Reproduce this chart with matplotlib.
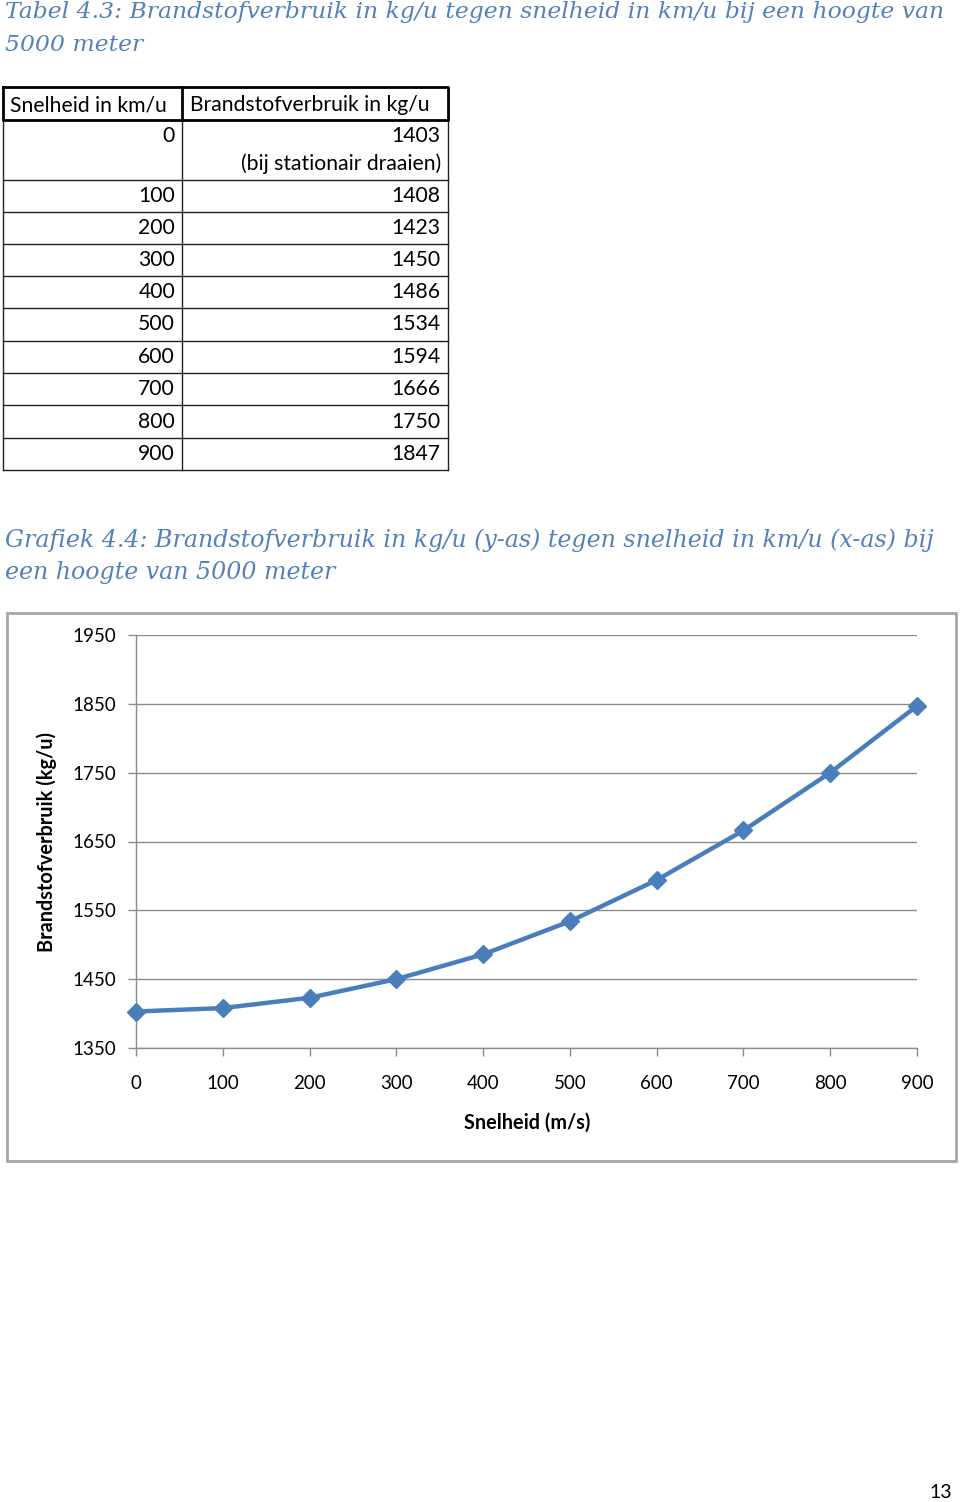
import matplotlib
matplotlib.use("Agg")
import matplotlib.pyplot as plt
from matplotlib.patches import Rectangle

# data
speeds = [0, 100, 200, 300, 400, 500, 600, 700, 800, 900]
fuel = [1403, 1408, 1423, 1450, 1486, 1534, 1594, 1666, 1750, 1847]
idle_note = "(bij stationair draaien)"
col_headers = ["Snelheid in km/u", "Brandstofverbruik in kg/u"]
y_ticks = [1350, 1450, 1550, 1650, 1750, 1850, 1950]
x_ticks = [0, 100, 200, 300, 400, 500, 600, 700, 800, 900]

caption_table = ["Tabel 4.3: Brandstofverbruik in kg/u tegen snelheid in km/u bij een hoogte van",
                 "5000 meter"]
caption_chart = ["Grafiek 4.4: Brandstofverbruik in kg/u (y-as) tegen snelheid in km/u (x-as) bij",
                 "een hoogte van 5000 meter"]

W, H = 960, 1502
CAP_COLOR = "#5581bb"
LINE_COLOR = "#4a7ebb"
BODY_FONT = ["Lato", "DejaVu Sans"]
TABLE_FS = 15.2

fig = plt.figure(figsize=(W / 100, H / 100), dpi=100)

# page overlay in pixel coordinates
page = fig.add_axes([0, 0, 1, 1])
page.set_xlim(0, W)
page.set_ylim(H, 0)
page.axis("off")

def caption(lines, y0, fs):
    for i, s in enumerate(lines):
        page.text(5, y0 + i * 33, s, family="DejaVu Serif", style="italic",
                  fontsize=fs, color=CAP_COLOR, va="center", ha="left")

caption(caption_table, 12, 16.9)
caption(caption_chart, 540, 17.1)

# table
x_left, x_mid, x_right = 3, 182, 448
y_head_top, y_head_bot = 87, 120
row_bounds = [120, 180, 212, 244, 276, 308, 341, 373, 405, 438, 470]

for yb in row_bounds[1:]:
    page.plot([x_left, x_right], [yb, yb], color="#222222", lw=1.0)
for xv in (x_left, x_mid, x_right):
    page.plot([xv, xv], [y_head_bot, row_bounds[-1]], color="#222222", lw=1.0)
# thick header frame
page.plot([x_left, x_right, x_right, x_left, x_left],
          [y_head_top, y_head_top, y_head_bot, y_head_bot, y_head_top],
          color="black", lw=2.0)
page.plot([x_mid, x_mid], [y_head_top, y_head_bot], color="black", lw=2.0)

page.text(10, 105, col_headers[0], family=BODY_FONT, fontsize=TABLE_FS, va="center", ha="left")
page.text(190, 105, col_headers[1], family=BODY_FONT, fontsize=TABLE_FS, va="center", ha="left")

for i, (s, f) in enumerate(zip(speeds, fuel)):
    top, bot = row_bounds[i], row_bounds[i + 1]
    yc = top + 16 if i == 0 else (top + bot) / 2
    page.text(175, yc, str(s), family=BODY_FONT, fontsize=TABLE_FS, va="center", ha="right")
    page.text(440, yc, str(f), family=BODY_FONT, fontsize=TABLE_FS, va="center", ha="right")
page.text(441, 164, idle_note, family=BODY_FONT, fontsize=TABLE_FS, va="center", ha="right")

# chart frame
page.add_patch(Rectangle((7, 613), 949, 548, fill=False, edgecolor="#a6a6a6", lw=2.0))

# page number
page.text(941, 1493, "13", family=BODY_FONT, fontsize=14, va="center", ha="center")

# chart
px0, px1, py0, py1 = 136, 917, 635, 1048
ax = fig.add_axes([px0 / W, 1 - py1 / H, (px1 - px0) / W, (py1 - py0) / H])
ax.set_facecolor("none")
ax.set_xlim(0, 900)
ax.set_ylim(1350, 1950)
ax.set_yticks(y_ticks)
ax.set_xticks(x_ticks)
ax.grid(axis="y", color="#8c8c8c", lw=1.0)
ax.set_axisbelow(True)
for side in ("top", "right"):
    ax.spines[side].set_visible(False)
for side in ("left", "bottom"):
    ax.spines[side].set_color("#8c8c8c")
    ax.spines[side].set_linewidth(1.0)
ax.tick_params(axis="both", color="#8c8c8c", length=6, width=1.0, labelsize=13.5)
ax.tick_params(axis="y", pad=8)
ax.tick_params(axis="x", pad=13.5)
for lab in ax.get_xticklabels() + ax.get_yticklabels():
    lab.set_family(BODY_FONT)

ax.plot(speeds, fuel, color=LINE_COLOR, lw=3.2, marker="D", markersize=9,
        clip_on=False, zorder=5)

fig.text(527 / W, 1 - 1123 / H, "Snelheid (m/s)", family=BODY_FONT, fontsize=14.3,
         fontweight="bold", ha="center", va="center")
fig.text(47 / W, 1 - 842 / H, "Brandstofverbruik (kg/u)", family=BODY_FONT, fontsize=14.3,
         fontweight="bold", ha="center", va="center", rotation=90)

fig.savefig("out.png", dpi=100)
